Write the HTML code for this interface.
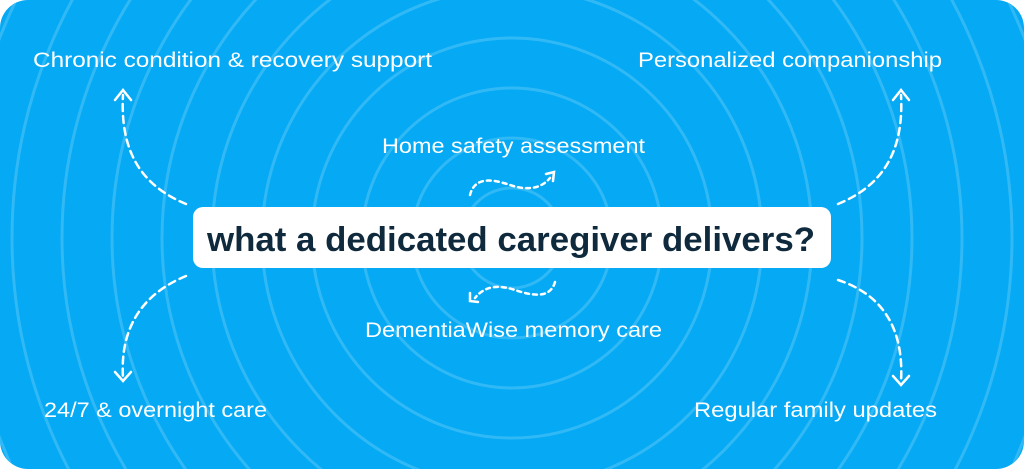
<!DOCTYPE html>
<html><head><style>
html,body{margin:0;background:#fff;overflow:hidden;width:1024px;height:469px;}
svg{display:block}
</style></head><body>
<svg width="1024" height="469" xmlns="http://www.w3.org/2000/svg">
<defs><clipPath id="c"><rect x="0" y="0" width="1024" height="469" rx="28"/></clipPath></defs>
<g clip-path="url(#c)">
<rect width="1024" height="469" fill="#05a9f4"/>
<g fill="none" stroke="#3dbdf7" stroke-width="3" opacity="0.8">
<circle cx="512" cy="238" r="50"/><circle cx="512" cy="238" r="100"/><circle cx="512" cy="238" r="150"/>
<circle cx="512" cy="238" r="200"/><circle cx="512" cy="238" r="250"/><circle cx="512" cy="238" r="300"/>
<circle cx="512" cy="238" r="350"/><circle cx="512" cy="238" r="400"/><circle cx="512" cy="238" r="450"/>
<circle cx="512" cy="238" r="500"/><circle cx="512" cy="238" r="550"/><circle cx="512" cy="238" r="600"/>
</g>
</g>
<g font-family="Liberation Sans, sans-serif" fill="#fff" font-size="21" lengthAdjust="spacingAndGlyphs">
<text x="33" y="67" textLength="399" lengthAdjust="spacingAndGlyphs">Chronic condition &amp; recovery support</text>
<text x="638" y="67" textLength="304" lengthAdjust="spacingAndGlyphs">Personalized companionship</text>
<text x="382" y="153" textLength="263" lengthAdjust="spacingAndGlyphs">Home safety assessment</text>
<text x="365" y="337" textLength="297" lengthAdjust="spacingAndGlyphs">DementiaWise memory care</text>
<text x="44" y="417" textLength="223" lengthAdjust="spacingAndGlyphs">24/7 &amp; overnight care</text>
<text x="694" y="417" textLength="243" lengthAdjust="spacingAndGlyphs">Regular family updates</text>
</g>
<rect x="193" y="207" width="638" height="61" rx="10" fill="#fff"/>
<text x="207" y="251" textLength="608" lengthAdjust="spacingAndGlyphs" font-family="Liberation Sans, sans-serif" font-weight="bold" font-size="34" fill="#0f2a3d">what a dedicated caregiver delivers?</text>
<g fill="none" stroke="#fff" stroke-width="2.5" stroke-dasharray="7 5" stroke-linecap="round">
<path d="M186 204 C140 185 120 150 123 95"/>
<path d="M838 204 C884 185 904 150 901 95"/>
<path d="M186 276 C140 295 120 330 123 378"/>
<path d="M838 280 C884 295 904 330 901 382"/>
<path d="M470 195 C475 175 495 180 510 185 C525 190 540 190 550 178" stroke-dasharray="4 4"/>
<path d="M555 282 C550 300 530 295 515 290 C500 285 485 285 475 298" stroke-dasharray="4 4"/>
</g>
<g fill="none" stroke="#fff" stroke-width="2.5" stroke-linecap="round">
<path d="M115 100 L123 90 L131 100"/>
<path d="M893 100 L901 90 L909 100"/>
<path d="M115 372 L123 381 L131 372"/>
<path d="M893 376 L901 385 L909 376"/>
<path d="M546 174 L554 172 L553 181"/>
<path d="M470 293 L470 301 L478 302"/>
</g>
</svg>
</body></html>
